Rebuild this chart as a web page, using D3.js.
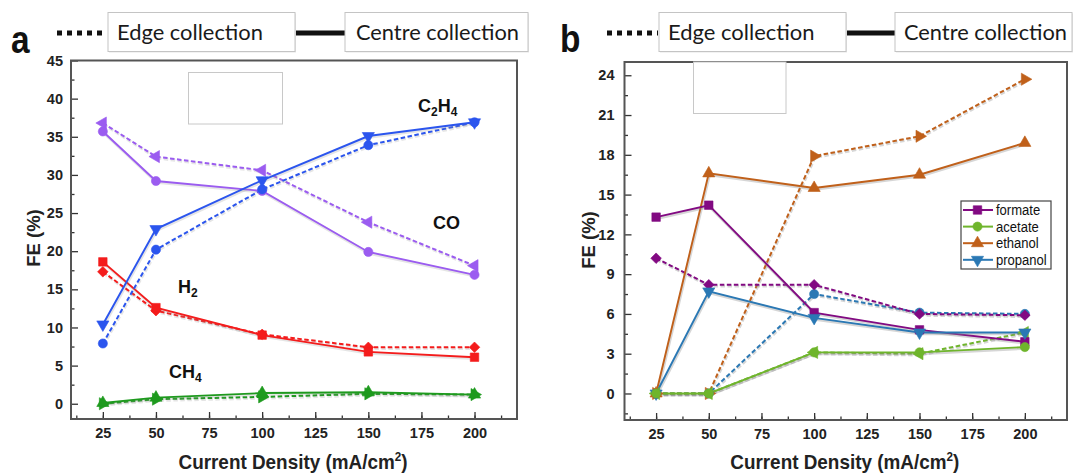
<!DOCTYPE html>
<html>
<head>
<meta charset="utf-8">
<script src="https://cdn.jsdelivr.net/npm/d3@7"></script>
<style>
  html, body { margin: 0; padding: 0; background: #fff; }
  svg { display: block; }
</style>
</head>
<body>
<svg id="chart" width="1073" height="474"></svg>
<script>
// ---- shared x values (current density, mA/cm2) ----
const currentDensity = [25, 50, 100, 150, 200];
const xMajorTicks = [25, 50, 75, 100, 125, 150, 175, 200];

// ---- panel a: gas products, FE (%) ----
const coCentre    = [35.7, 29.2, 27.9, 19.9, 16.9];
const coEdge      = [36.8, 32.4, 30.6, 23.8, 18.1];
const c2h4Centre  = [10.4, 22.9, 29.3, 35.1, 36.9];
const c2h4Edge    = [7.9, 20.2, 28.1, 33.9, 36.9];
const h2Centre    = [18.6, 12.6, 9.0, 6.8, 6.1];
const h2Edge      = [17.3, 12.2, 9.1, 7.4, 7.4];
const ch4Centre   = [0.1, 0.8, 1.4, 1.5, 1.2];
const ch4Edge     = [0.0, 0.6, 0.9, 1.3, 1.2];
const yTicksA     = [0, 5, 10, 15, 20, 25, 30, 35, 40, 45];

// ---- panel b: liquid products, FE (%) ----
const formateCentre  = [13.3, 14.2, 6.1, 4.8, 3.9];
const formateEdge    = [10.2, 8.2, 8.2, 6.0, 5.9];
const acetateCentre  = [0.0, 0.0, 3.1, 3.1, 3.5];
const acetateEdge    = [0.0, 0.0, 3.1, 3.0, 4.6];
const ethanolCentre  = [0.0, 16.6, 15.5, 16.5, 18.9];
const ethanolEdge    = [0.0, 0.0, 17.9, 19.4, 23.7];
const propanolCentre = [0.0, 7.7, 5.7, 4.6, 4.6];
const propanolEdge   = [0.0, 0.0, 7.5, 6.1, 6.0];
const yTicksB        = [0, 3, 6, 9, 12, 15, 18, 21, 24];
const legendNamesB   = ["formate", "acetate", "ethanol", "propanol"];

const svg = d3.select("#chart");
const AXIS_FONT = "'Liberation Sans', Arial, Helvetica, sans-serif";
const HEAD_FONT = "Lato, 'Open Sans', sans-serif";

// marker shapes: triangles are rotated to point in the named direction
const markerDefs = {
  circle:   { type: d3.symbolCircle,   size: 66, rot: 0 },
  square:   { type: d3.symbolSquare,   size: 72, rot: 0 },
  diamond:  { type: d3.symbolSquare,   size: 56, rot: 45 },
  triUp:    { type: d3.symbolTriangle, size: 64, rot: 0 },
  triDown:  { type: d3.symbolTriangle, size: 64, rot: 180 },
  triLeft:  { type: d3.symbolTriangle, size: 64, rot: -90 },
  triRight: { type: d3.symbolTriangle, size: 64, rot: 90 }
};

function drawMarker(g, shape, cx, cy, color) {
  const m = markerDefs[shape];
  g.append("path")
    .attr("d", d3.symbol(m.type, m.size)())
    .attr("transform", `translate(${cx},${cy}) rotate(${m.rot})`)
    .attr("fill", color)
    .attr("stroke", color)
    .attr("stroke-width", 0.6);
}

function drawPanel(p) {
  const x = d3.scaleLinear().domain([10, 220]).range([p.left, p.right]);
  const y = d3.scaleLinear().domain(p.yDomain).range([p.bottom, p.top]);
  const g = svg.append("g");

  // x axis (ticks point inward)
  const xMinor = d3.range(12.5, 215, 12.5);
  g.append("g").attr("transform", `translate(0,${p.bottom})`)
    .call(d3.axisBottom(x).tickValues(xMinor).tickSize(-3.5).tickFormat(""))
    .call(a => a.select(".domain").remove());
  const xa = g.append("g").attr("transform", `translate(0,${p.bottom})`)
    .call(d3.axisBottom(x).tickValues(xMajorTicks).tickSize(-7).tickPadding(9).tickFormat(d3.format("d")));
  xa.select(".domain").remove();

  // y axis
  const yMinor = d3.range(p.yDomain[0] < -p.yStep / 2 ? -p.yStep / 2 : p.yStep / 2, p.yDomain[1], p.yStep);
  g.append("g").attr("transform", `translate(${p.left},0)`)
    .call(d3.axisLeft(y).tickValues(yMinor).tickSize(-3.5).tickFormat(""))
    .call(a => a.select(".domain").remove());
  const ya = g.append("g").attr("transform", `translate(${p.left},0)`)
    .call(d3.axisLeft(y).tickValues(p.yTicks).tickSize(-7).tickPadding(p.yPad).tickFormat(d3.format("d")));
  ya.select(".domain").remove();

  g.selectAll(".tick line").attr("stroke", "#333").attr("stroke-width", 1.3);
  [xa, ya].forEach(a => a.selectAll("text")
    .attr("font-family", AXIS_FONT).attr("font-weight", "bold")
    .attr("font-size", 14.5).attr("fill", "#222"));

  // frame
  g.append("rect")
    .attr("x", p.left).attr("y", p.top)
    .attr("width", p.right - p.left).attr("height", p.bottom - p.top)
    .attr("fill", "none").attr("stroke", "#555").attr("stroke-width", 2);

  // blank label box inside the plot
  g.append("rect")
    .attr("x", p.blank[0]).attr("y", p.blank[1])
    .attr("width", p.blank[2]).attr("height", p.blank[3])
    .attr("fill", "#fff").attr("stroke", "#c8c8c8").attr("stroke-width", 1);

  // series
  const line = d3.line().x((d, i) => x(currentDensity[i])).y(d => y(d));
  const lines = g.append("g");
  p.series.forEach(s => {
    const dash = s.edge ? "4.5,2.5" : null;
    // soft grey shadow beneath each trace
    lines.append("path").datum(s.values)
      .attr("d", line).attr("fill", "none")
      .attr("stroke", "#8a8a8a").attr("stroke-opacity", p.shadow)
      .attr("stroke-width", 3).attr("stroke-dasharray", dash)
      .attr("transform", "translate(0.7,1.3)");
    lines.append("path").datum(s.values)
      .attr("d", line).attr("fill", "none")
      .attr("stroke", s.color).attr("stroke-width", s.edge ? 2 : 1.9)
      .attr("stroke-dasharray", dash);
  });
  p.series.forEach(s => {
    s.values.forEach((v, i) => drawMarker(lines, s.marker, x(currentDensity[i]), y(v), s.color));
  });

  // axis titles
  const xt = g.append("text")
    .attr("transform", `translate(${(p.left + p.right) / 2 - 1},469) scale(0.9,1)`)
    .attr("text-anchor", "middle")
    .attr("font-family", AXIS_FONT).attr("font-weight", "bold")
    .attr("font-size", 21).attr("fill", "#222");
  xt.append("tspan").text("Current Density (mA/cm");
  xt.append("tspan").attr("dy", -8).attr("font-size", 13).text("2");
  xt.append("tspan").attr("dy", 8).text(")");

  g.append("text")
    .attr("transform", `translate(${p.yTitleX},${p.yTitleY}) rotate(-90)`)
    .attr("text-anchor", "middle")
    .attr("font-family", AXIS_FONT).attr("font-weight", "bold")
    .attr("font-size", 18.5).attr("fill", "#222")
    .text("FE (%)");

  return { x, y, g };
}

function header(h) {
  const g = svg.append("g");
  g.append("text")
    .attr("transform", `translate(${h.letterX},${h.letterY}) scale(0.88,1)`)
    .attr("font-family", AXIS_FONT).attr("font-weight", "bold")
    .attr("font-size", 38).attr("fill", "#111").text(h.letter);
  g.append("line")
    .attr("x1", h.dot[0]).attr("x2", h.dot[1]).attr("y1", 33).attr("y2", 33)
    .attr("stroke", "#111").attr("stroke-width", 5).attr("stroke-dasharray", "5,5");
  g.append("line")
    .attr("x1", h.solid[0]).attr("x2", h.solid[1]).attr("y1", 33).attr("y2", 33)
    .attr("stroke", "#111").attr("stroke-width", 5);
  h.boxes.forEach(b => {
    g.append("rect")
      .attr("x", b.x0 + 1).attr("y", 13.5).attr("width", b.x1 - b.x0).attr("height", 39)
      .attr("fill", "#e6e6e6");
    g.append("rect")
      .attr("x", b.x0).attr("y", 12.5).attr("width", b.x1 - b.x0).attr("height", 39)
      .attr("fill", "#fff").attr("stroke", "#c4c4c4").attr("stroke-width", 1);
    g.append("text")
      .attr("x", b.tx).attr("y", 40)
      .attr("font-family", HEAD_FONT).attr("font-size", 20.5).attr("fill", "#1a1a1a")
      .attr("textLength", b.tw).attr("lengthAdjust", "spacingAndGlyphs")
      .text(b.text);
  });
}

// ---------- panel a ----------
header({
  letter: "a", letterX: 11, letterY: 53,
  dot: [57, 107], solid: [295, 345],
  boxes: [
    { x0: 108, x1: 295, tx: 117, tw: 146, text: "Edge collection" },
    { x0: 345, x1: 528, tx: 356, tw: 163, text: "Centre collection" }
  ]
});

const colA = { co: "#9b5cf0", c2h4: "#2b55ee", h2: "#f41c1c", ch4: "#1e9a1e" };
const pa = drawPanel({
  left: 71, right: 517, top: 60.5, bottom: 419,
  yDomain: [-2, 45], yTicks: yTicksA, yStep: 5, yPad: 8,
  yTitleX: 39.5, yTitleY: 238, shadow: 0.22,
  blank: [188.5, 72.5, 94, 51.5],
  series: [
    { values: ch4Edge,    color: colA.ch4,  marker: "triRight", edge: true },
    { values: ch4Centre,  color: colA.ch4,  marker: "triUp",    edge: false },
    { values: h2Edge,     color: colA.h2,   marker: "diamond",  edge: true },
    { values: h2Centre,   color: colA.h2,   marker: "square",   edge: false },
    { values: coEdge,     color: colA.co,   marker: "triLeft",  edge: true },
    { values: coCentre,   color: colA.co,   marker: "circle",   edge: false },
    { values: c2h4Edge,   color: colA.c2h4, marker: "circle",   edge: true },
    { values: c2h4Centre, color: colA.c2h4, marker: "triDown",  edge: false }
  ]
});

// species labels with subscripts
function species(g, xPos, yPos, parts) {
  const t = g.append("text").attr("x", xPos).attr("y", yPos)
    .attr("font-family", AXIS_FONT).attr("font-weight", "bold")
    .attr("font-size", 18).attr("fill", "#111");
  let lowered = false;
  parts.forEach(([s, sub]) => {
    if (sub) { t.append("tspan").attr("dy", 4).attr("font-size", 12).text(s); lowered = true; }
    else { t.append("tspan").attr("dy", lowered ? -4 : 0).text(s); lowered = false; }
  });
}
species(pa.g, 418, 112, [["C"], ["2", true], ["H"], ["4", true]]);
species(pa.g, 433, 229, [["CO"]]);
species(pa.g, 178, 293, [["H"], ["2", true]]);
species(pa.g, 169, 378, [["CH"], ["4", true]]);

// ---------- panel b ----------
header({
  letter: "b", letterX: 560, letterY: 51.5,
  dot: [607, 658], solid: [847, 895],
  boxes: [
    { x0: 659, x1: 846, tx: 668, tw: 146.5, text: "Edge collection" },
    { x0: 895, x1: 1072, tx: 904, tw: 163, text: "Centre collection" }
  ]
});

const colB = { formate: "#820a82", acetate: "#6fb52c", ethanol: "#c0601a", propanol: "#2a78b4" };
const seriesB = [
  { values: ethanolEdge,    color: colB.ethanol,  marker: "triRight", edge: true },
  { values: propanolEdge,   color: colB.propanol, marker: "circle",   edge: true },
  { values: formateEdge,    color: colB.formate,  marker: "diamond",  edge: true },
  { values: acetateEdge,    color: colB.acetate,  marker: "triLeft",  edge: true },
  { values: ethanolCentre,  color: colB.ethanol,  marker: "triUp",    edge: false },
  { values: formateCentre,  color: colB.formate,  marker: "square",   edge: false },
  { values: propanolCentre, color: colB.propanol, marker: "triDown",  edge: false },
  { values: acetateCentre,  color: colB.acetate,  marker: "circle",   edge: false }
];
const pb = drawPanel({
  left: 624.5, right: 1067, top: 62, bottom: 420,
  yDomain: [-2, 25], yTicks: yTicksB, yStep: 3, yPad: 10,
  yTitleX: 594.5, yTitleY: 240, shadow: 0.35,
  blank: [693.5, 62, 92.5, 51.5],
  series: seriesB
});

// legend for panel b
const legendMarkers = { formate: "square", acetate: "circle", ethanol: "triUp", propanol: "triDown" };
const lg = pb.g.append("g");
lg.append("rect")
  .attr("x", 961).attr("y", 201).attr("width", 90).attr("height", 68)
  .attr("fill", "#fff").attr("stroke", "#444").attr("stroke-width", 1.2);
legendNamesB.forEach((name, i) => {
  const yy = 210 + i * 16.6;
  lg.append("line").attr("x1", 963).attr("x2", 993).attr("y1", yy).attr("y2", yy)
    .attr("stroke", colB[name]).attr("stroke-width", 2);
  drawMarker(lg, legendMarkers[name], 977.5, yy, colB[name]);
  lg.append("text").attr("x", 996).attr("y", yy + 5)
    .attr("font-family", AXIS_FONT).attr("font-size", 14.5)
    .attr("transform", `translate(${996 * 0.1},0) scale(0.9,1)`)
    .attr("fill", "#111").text(name);
});
</script>
</body>
</html>
